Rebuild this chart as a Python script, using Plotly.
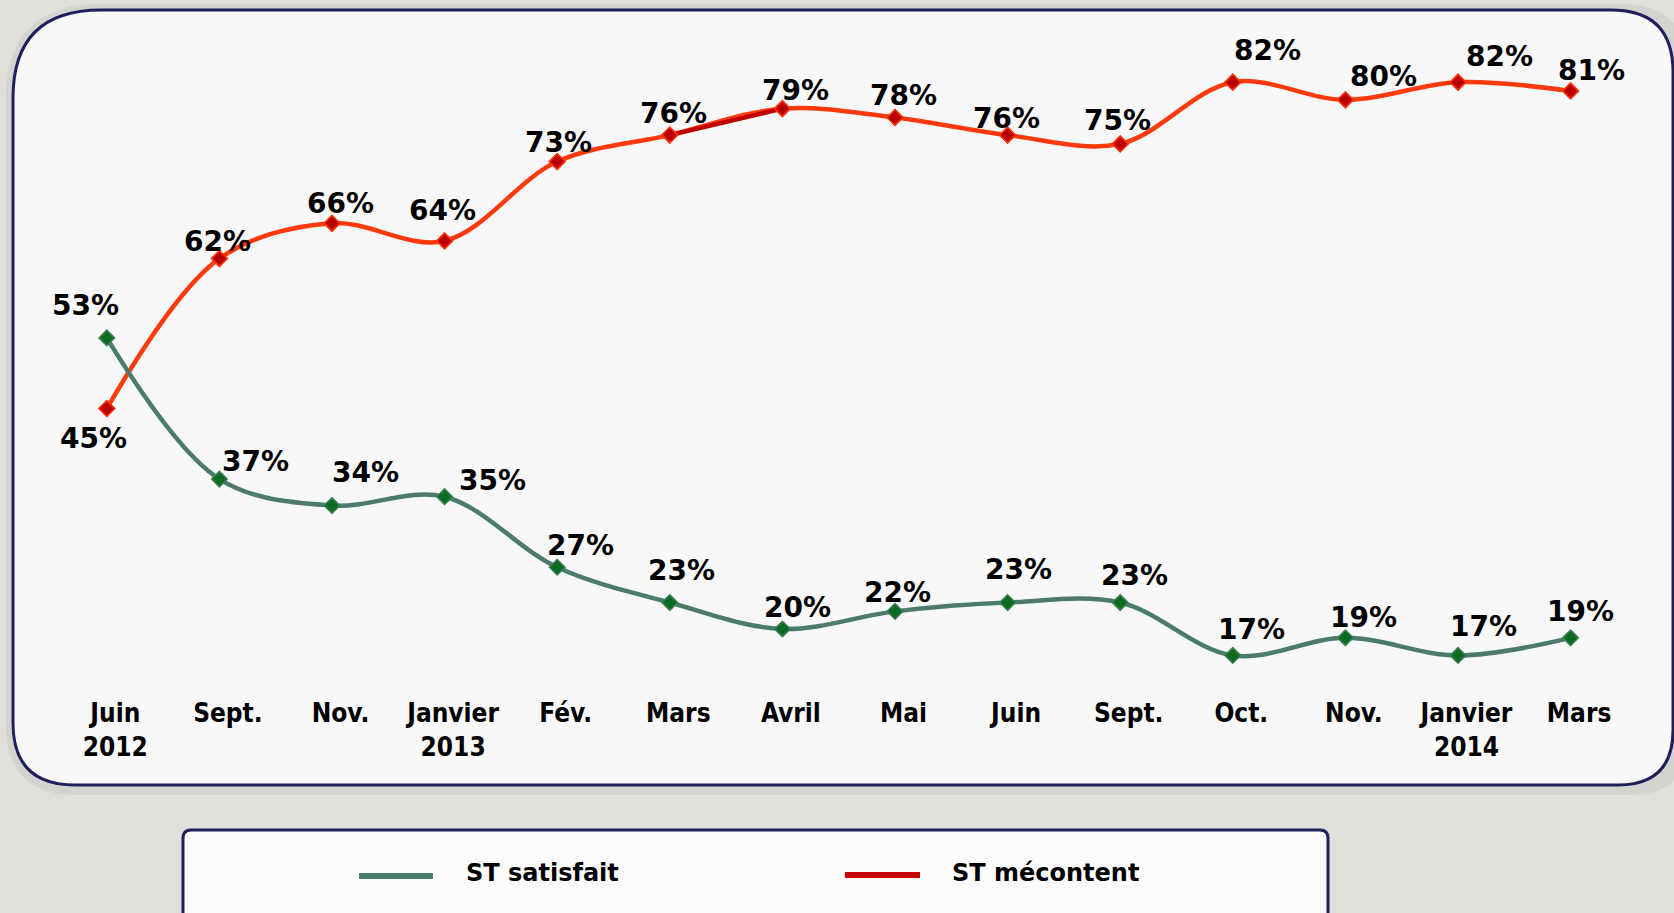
import plotly.graph_objects as go

# ---------------- data ----------------
months = ["Juin<br>2012", "Sept.", "Nov.", "Janvier<br>2013", "Fév.", "Mars", "Avril",
          "Mai", "Juin", "Sept.", "Oct.", "Nov.", "Janvier<br>2014", "Mars"]
satisfait = [53, 37, 34, 35, 27, 23, 20, 22, 23, 23, 17, 19, 17, 19]
mecontent = [45, 62, 66, 64, 73, 76, 79, 78, 76, 75, 82, 80, 82, 81]
series_names = ["ST satisfait", "ST mécontent"]

# ---------------- styling / layout helpers ----------------
W, H = 1674, 913
ML, MR, MT, MB = 40, 60, 30, 225
PW, PH = W - ML - MR, H - MT - MB
FONT = "'DejaVu Sans', sans-serif"
TICK_FONT = "'DejaVu Sans Condensed', 'DejaVu Sans', sans-serif"

X0_PX, DX_PX = 106.8, 112.6          # pixel of first category, spacing
Y0_PX, DY_PX = 805.4, 8.82           # pixel of value 0, pixels per unit
xr = [(ML - X0_PX) / DX_PX, (ML + PW - X0_PX) / DX_PX]
yr = [(Y0_PX - (MT + PH)) / DY_PX, (Y0_PX - MT) / DY_PX]

def px(x):
    return (x - ML) / PW

def py(y):
    return (MT + PH - y) / PH

def rounded(x0, y0, x1, y1, r_tl, r_tr, r_br, r_bl):
    p = [f"M {px(x0 + r_tl)} {py(y0)}",
         f"L {px(x1 - r_tr)} {py(y0)}",
         f"Q {px(x1)} {py(y0)} {px(x1)} {py(y0 + r_tr)}",
         f"L {px(x1)} {py(y1 - r_br)}",
         f"Q {px(x1)} {py(y1)} {px(x1 - r_br)} {py(y1)}",
         f"L {px(x0 + r_bl)} {py(y1)}",
         f"Q {px(x0)} {py(y1)} {px(x0)} {py(y1 - r_bl)}",
         f"L {px(x0)} {py(y0 + r_tl)}",
         f"Q {px(x0)} {py(y0)} {px(x0 + r_tl)} {py(y0)}", "Z"]
    return " ".join(p)

GREEN_LINE, GREEN_MK, GREEN_MK_LINE = "#4b7b6b", "#0b6b1e", "#3e7d5a"
RED_LINE, RED_MK, RED_MK_LINE = "#ff3a0c", "#b80000", "#ff3300"
BORDER = "#1f1f5c"

# label offsets (pixels) for data labels
red_off = [(-13, -30), (-2, 17), (8, 20), (-2, 30), (1, 19), (4, 22), (13, 18),
           (8, 22), (-1, 17), (-3, 23), (35, 32), (38, 23), (41, 26), (21, 20)]
green_off = [(-21, 32), (36, 18), (33, 33), (48, 16), (23, 22), (12, 32), (15, 22),
             (2, 19), (11, 33), (14, 27), (19, 26), (18, 20), (25, 29), (10, 26)]

idx = list(range(len(months)))

fig = go.Figure()

fig.add_trace(go.Scatter(
    x=idx, y=mecontent, mode="lines+markers", name=series_names[1],
    line=dict(color=RED_LINE, width=4.5, shape="spline", smoothing=1.0),
    marker=dict(symbol="diamond", size=12, color=RED_MK,
                line=dict(color=RED_MK_LINE, width=1.5)),
    showlegend=False))
# darker segment Mars -> Avril
fig.add_trace(go.Scatter(
    x=idx[5:7], y=mecontent[5:7], mode="lines",
    line=dict(color="#c00000", width=4.5), showlegend=False, hoverinfo="skip"))
fig.add_trace(go.Scatter(
    x=idx, y=satisfait, mode="lines+markers", name=series_names[0],
    line=dict(color=GREEN_LINE, width=4.5, shape="spline", smoothing=1.0),
    marker=dict(symbol="diamond", size=12, color=GREEN_MK,
                line=dict(color=GREEN_MK_LINE, width=1.5)),
    showlegend=False))
# re-draw markers on top
fig.add_trace(go.Scatter(
    x=idx, y=mecontent, mode="markers", showlegend=False, hoverinfo="skip",
    marker=dict(symbol="diamond", size=12, color=RED_MK,
                line=dict(color=RED_MK_LINE, width=1.5))))

annotations = []
for i, v in enumerate(mecontent):
    dx, dy = red_off[i]
    annotations.append(dict(x=i, y=v, xref="x", yref="y", text=f"{v}%", showarrow=False,
                            xshift=dx, yshift=dy, font=dict(family=FONT, size=28, color="black", weight="bold")))
for i, v in enumerate(satisfait):
    dx, dy = green_off[i]
    annotations.append(dict(x=i, y=v, xref="x", yref="y", text=f"{v}%", showarrow=False,
                            xshift=dx, yshift=dy, font=dict(family=FONT, size=28, color="black", weight="bold")))

# legend (drawn)
LEG_Y = 873
annotations.append(dict(x=px(464), y=py(LEG_Y), xref="paper", yref="paper", text=series_names[0],
                        showarrow=False, xanchor="left", yanchor="middle",
                        font=dict(family=FONT, size=24, color="black", weight="bold")))
annotations.append(dict(x=px(950), y=py(LEG_Y), xref="paper", yref="paper", text=series_names[1],
                        showarrow=False, xanchor="left", yanchor="middle",
                        font=dict(family=FONT, size=24, color="black", weight="bold")))

shapes = [
    # soft shadow
    dict(type="path", path=rounded(6, 4, 1690, 795, 95, 70, 60, 70), xref="paper", yref="paper",
         fillcolor="rgba(190,190,185,0.35)", line=dict(width=0), layer="below"),
    # chart box
    dict(type="path", path=rounded(13, 10, 1673, 785, 88, 62, 55, 62), xref="paper", yref="paper",
         fillcolor="#f8f8f8", line=dict(color=BORDER, width=3), layer="below"),
    # legend box
    dict(type="path", path=rounded(183, 830, 1328, 935, 8, 8, 8, 8), xref="paper", yref="paper",
         fillcolor="#fbfbfb", line=dict(color=BORDER, width=3), layer="below"),
    dict(type="line", x0=px(359), x1=px(433), y0=py(LEG_Y + 3), y1=py(LEG_Y + 3), xref="paper", yref="paper",
         line=dict(color=GREEN_LINE, width=6)),
    dict(type="line", x0=px(845), x1=px(920), y0=py(LEG_Y + 2), y1=py(LEG_Y + 2), xref="paper", yref="paper",
         line=dict(color="#c40000", width=6)),
]

shift = 8.5 / DX_PX
fig.update_layout(
    width=W, height=H,
    margin=dict(l=ML, r=MR, t=MT, b=MB),
    paper_bgcolor="#dfe0db", plot_bgcolor="rgba(0,0,0,0)",
    xaxis=dict(range=xr, showgrid=False, zeroline=False, showline=False,
               showticklabels=False, ticks=""),
    xaxis2=dict(range=[xr[0] - shift, xr[1] - shift], overlaying="x", side="bottom",
                tickmode="array", tickvals=idx, ticktext=months, showgrid=False,
                zeroline=False, showline=False, ticks="", ticklabelstandoff=7,
                tickfont=dict(family=TICK_FONT, size=26, color="black", weight="bold")),
    yaxis=dict(range=yr, showgrid=False, zeroline=False, showline=False,
               showticklabels=False, ticks=""),
    annotations=annotations, shapes=shapes,
)
# dummy trace so xaxis2 is rendered
fig.add_trace(go.Scatter(x=[None], y=[None], xaxis="x2", yaxis="y", showlegend=False, hoverinfo="skip"))

fig.write_html("out.html", config={"displayModeBar": False},
               post_script="document.body.style.margin='0';document.body.style.overflow='hidden';")
